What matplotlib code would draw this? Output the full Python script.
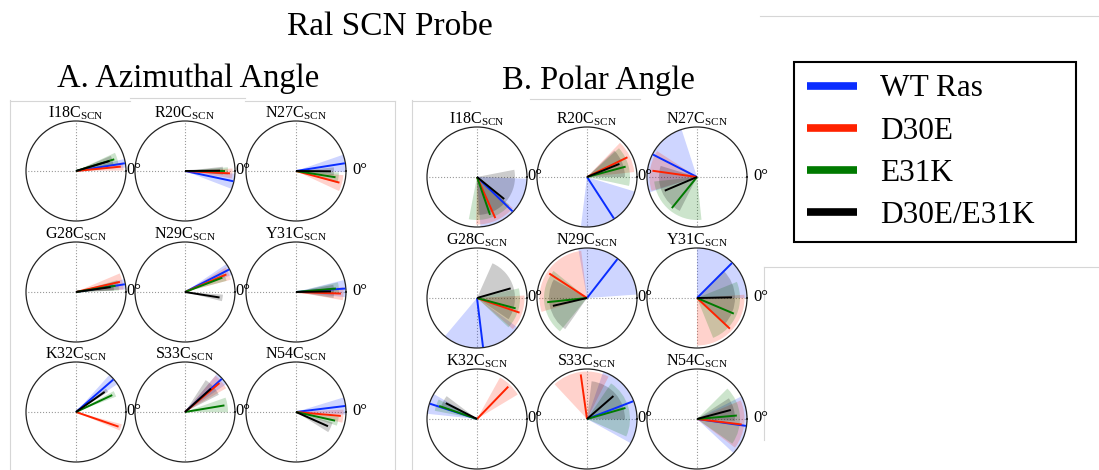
import numpy as np
import matplotlib
matplotlib.use("Agg")
import matplotlib.pyplot as plt
from matplotlib.lines import Line2D

plt.rcParams['font.family'] = ['Liberation Serif', 'DejaVu Serif']
plt.rcParams['mathtext.fontset'] = 'custom'
plt.rcParams['mathtext.rm'] = 'Liberation Serif'

# ---------------- data ----------------
residues = ["I18C", "R20C", "N27C", "G28C", "N29C", "Y31C", "K32C", "S33C", "N54C"]
series = ["WT Ras", "D30E", "E31K", "D30E/E31K"]
colors = ["#0a2dff", "#ff2200", "#007a00", "#000000"]

# line lengths (fraction of radius) and wedge radii per series
line_len = [0.99, 0.90, 0.80, 0.70]
wedge_rad = [1.00, 0.95, 0.86, 0.76]

# A. Azimuthal angle: mean angle (deg) per residue, per series
az_wt = [9, -12, 9, 9, 27, 4, 41, 42, 7]
az_d30e = [5.6, -3, -15, 13, 23, -2, -19, 40, -5]
az_e31k = [17, 0, -9, 9, 21, 5, 25, 9.5, -12.5]
az_dm = [16.6, 0.5, -0.5, 8, -9, 1, 35, 42, -24]
# half-width of spread (deg)
az_wt_sd = [5, 9, 10, 6, 7, 10, 7, 8, 10]
az_d30e_sd = [5, 6, 10, 10, 8, 8, 4, 10, 8]
az_e31k_sd = [8, 5, 7, 7, 6, 8, 4, 10, 6]
az_dm_sd = [7, 6, 6, 6, 5, 10, 3, 15, 8]

# B. Polar angle
po_wt = [-44, -57, 153, -83, 52, 45, 162, 21, -8]
po_d30e = [-66, 26, 172, -19, 147, -43, 46, 98, -7]
po_e31k = [-71, 15, 231, -15, 186, -23, 161, 16, 5]
po_dm = [-39, 22, 203, 16, 193, 1, 153, 41, 15]
po_wt_sd = [42, 40, 45, 47, 48, 45, 12, 50, 35]
po_d30e_sd = [25, 20, 25, 22, 50, 47, 15, 35, 30]
po_e31k_sd = [30, 27, 45, 28, 45, 45, 8, 40, 40]
po_dm_sd = [50, 22, 40, 50, 42, 45, 10, 42, 18]

W, H = 1099, 470
fig = plt.figure(figsize=(W / 100, H / 100), dpi=100)


def fx(x):
    return x / W


def fy(y):
    return 1 - y / H


R = 50


def panel(cx, cy, name, angles, spreads, label_gap):
    ax = fig.add_axes([fx(cx - R), fy(cy + R), 2 * R / W, 2 * R / H], projection='polar')
    for k in range(4):
        th = np.deg2rad(angles[k])
        ax.bar(th, wedge_rad[k], width=np.deg2rad(2 * spreads[k]), bottom=0,
               color=colors[k], alpha=0.2, edgecolor='none', zorder=2)
    for k in range(4):
        th = np.deg2rad(angles[k])
        ax.plot([th, th], [0, line_len[k]], color=colors[k], lw=1.4, zorder=3,
                solid_capstyle='butt')
    ax.set_ylim(0, 1)
    ax.set_yticks([])
    ax.set_thetagrids([0, 90, 180, 270], labels=['', '', '', ''])
    ax.xaxis.grid(True, linestyle=':', color='#999999', lw=0.8)
    ax.spines['polar'].set_linewidth(0.9)
    ax.spines['polar'].set_color('#222222')
    ax.patch.set_alpha(0)
    fig.text(fx(cx), fy(cy - R - 4), name + r"$_{\mathregular{SCN}}$",
             ha='center', va='baseline', fontsize=11.5)
    fig.text(fx(cx + R + label_gap), fy(cy - 1), "0°", ha='left', va='center',
             fontsize=12)
    return ax


az_x = [76, 185, 296]
az_y = [171, 292, 412]
po_x = [477, 587, 697]
po_y = [177, 298, 419]
gaps = [0.5, 0.5, 6]

az_all = [az_wt, az_d30e, az_e31k, az_dm]
az_sd = [az_wt_sd, az_d30e_sd, az_e31k_sd, az_dm_sd]
po_all = [po_wt, po_d30e, po_e31k, po_dm]
po_sd = [po_wt_sd, po_d30e_sd, po_e31k_sd, po_dm_sd]

for i, name in enumerate(residues):
    r, c = divmod(i, 3)
    panel(az_x[c], az_y[r], name, [s[i] for s in az_all], [s[i] for s in az_sd], gaps[c])
    panel(po_x[c], po_y[r], name, [s[i] for s in po_all], [s[i] for s in po_sd], gaps[c])

# headings
fig.text(fx(390), fy(27), "Ral SCN Probe", ha='center', va='center', fontsize=24)
fig.text(fx(188), fy(79), "A. Azimuthal Angle", ha='center', va='center', fontsize=23.5)
fig.text(fx(598), fy(81), "B. Polar Angle", ha='center', va='center', fontsize=23.5)

# faint frame lines of the composed figure
gray = '#d6d6d6'
for xs, ys in [([760, 1099], [16, 16]), ([764, 1099], [267, 267]),
               ([412, 412], [100, 470]), ([10, 10], [100, 470]),
               ([764, 764], [267, 440]), ([10, 130], [101, 101]),
               ([130, 245], [98, 98]), ([245, 395], [101, 101]),
               ([395, 395], [101, 470]), ([412, 470], [101, 101]),
               ([530, 640], [99, 99])]:
    fig.add_artist(Line2D([fx(x) for x in xs], [fy(y) for y in ys],
                          transform=fig.transFigure, color=gray, lw=0.8, zorder=0))

# legend
handles = [Line2D([], [], color=colors[k], lw=5.5, solid_capstyle='butt') for k in range(4)]
leg = fig.legend(handles, series, loc='upper left',
                 bbox_to_anchor=(fx(794), fy(236), fx(1076) - fx(794), fy(62) - fy(236)),
                 mode='expand', fontsize=22.5, frameon=True, fancybox=False,
                 edgecolor='black', framealpha=1, handlelength=1.6,
                 handletextpad=0.75, labelspacing=0.42, borderpad=0.4,
                 borderaxespad=0)
leg.get_frame().set_linewidth(1.5)

fig.savefig("out.png", dpi=100)
